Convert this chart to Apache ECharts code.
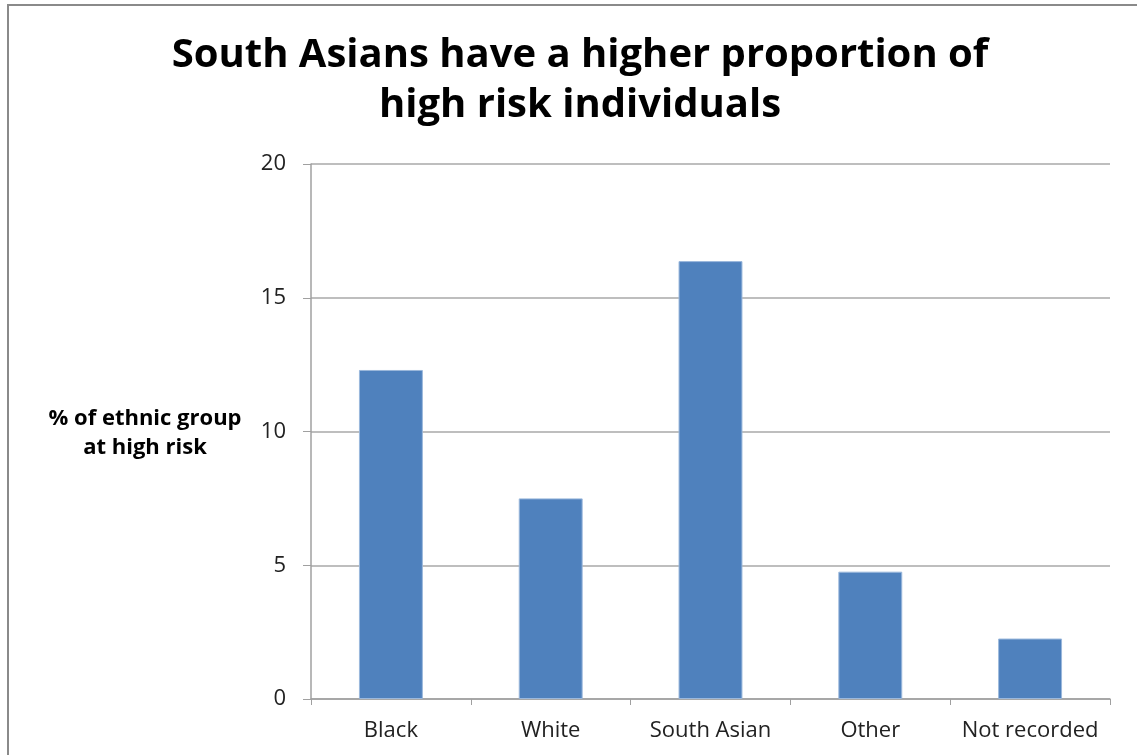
<!DOCTYPE html>
<html><head><meta charset="utf-8">
<script src="https://cdn.jsdelivr.net/npm/echarts@6/dist/echarts.min.js"></script>
<style>
html,body{margin:0;padding:0;background:#fff;overflow:hidden}
#frame{position:absolute;left:7px;top:4px;width:1200px;height:800px;border-top:2px solid #8a8a8a;border-left:2px solid #8a8a8a}
#c{position:absolute;left:0;top:0;width:1137px;height:755px}
</style></head>
<body>
<div id="frame"></div>
<div id="c"></div>
<script>
var categories = ['Black', 'White', 'South Asian', 'Other', 'Not recorded'];
var values = [12.3, 7.5, 16.37, 4.76, 2.26];
var titleLines = ['South Asians have a higher proportion of', 'high risk individuals'];
var yAxisTitle = ['% of ethnic group', 'at high risk'];

var chart = echarts.init(document.getElementById('c'), null, {renderer: 'canvas'});
chart.setOption({
  animation: false,
  backgroundColor: 'transparent',
  title: {
    text: titleLines.join('\n'),
    left: 575, top: 26, textAlign: 'center',
    textStyle: {fontFamily: 'Open Sans', fontWeight: 'bold', fontSize: 40, color: '#000', lineHeight: 50}
  },
  graphic: [{
    type: 'text', x: 0, y: 0,
    style: {
      text: yAxisTitle.join('\n'), x: 145, y: 404, textAlign: 'center',
      font: 'bold 22px "Open Sans"', fill: '#000', lineHeight: 29
    }
  }],
  grid: {left: 311, right: 27, top: 164, bottom: 56},
  xAxis: {
    type: 'category', data: categories,
    axisLine: {lineStyle: {color: '#a0a0a0', width: 1.5}},
    axisTick: {show: true, alignWithLabel: false, length: 6, lineStyle: {color: '#a0a0a0'}},
    axisLabel: {interval: 0, hideOverlap: false, fontFamily: 'Open Sans', fontSize: 22, color: '#222', margin: 21}
  },
  yAxis: {
    type: 'value', min: 0, max: 20, interval: 5,
    axisLine: {show: true, lineStyle: {color: '#a0a0a0', width: 1.5}},
    axisTick: {show: true, inside: false, length: 8, lineStyle: {color: '#a0a0a0'}},
    splitLine: {lineStyle: {color: '#a8a8a8', width: 1.5}},
    axisLabel: {fontFamily: 'Open Sans', fontSize: 22, color: '#222', margin: 25}
  },
  series: [{
    type: 'bar', data: values, barWidth: '40%',
    itemStyle: {color: '#4F81BD', borderColor: '#9bb8dc', borderWidth: 1}
  }]
});
</script>
</body></html>
